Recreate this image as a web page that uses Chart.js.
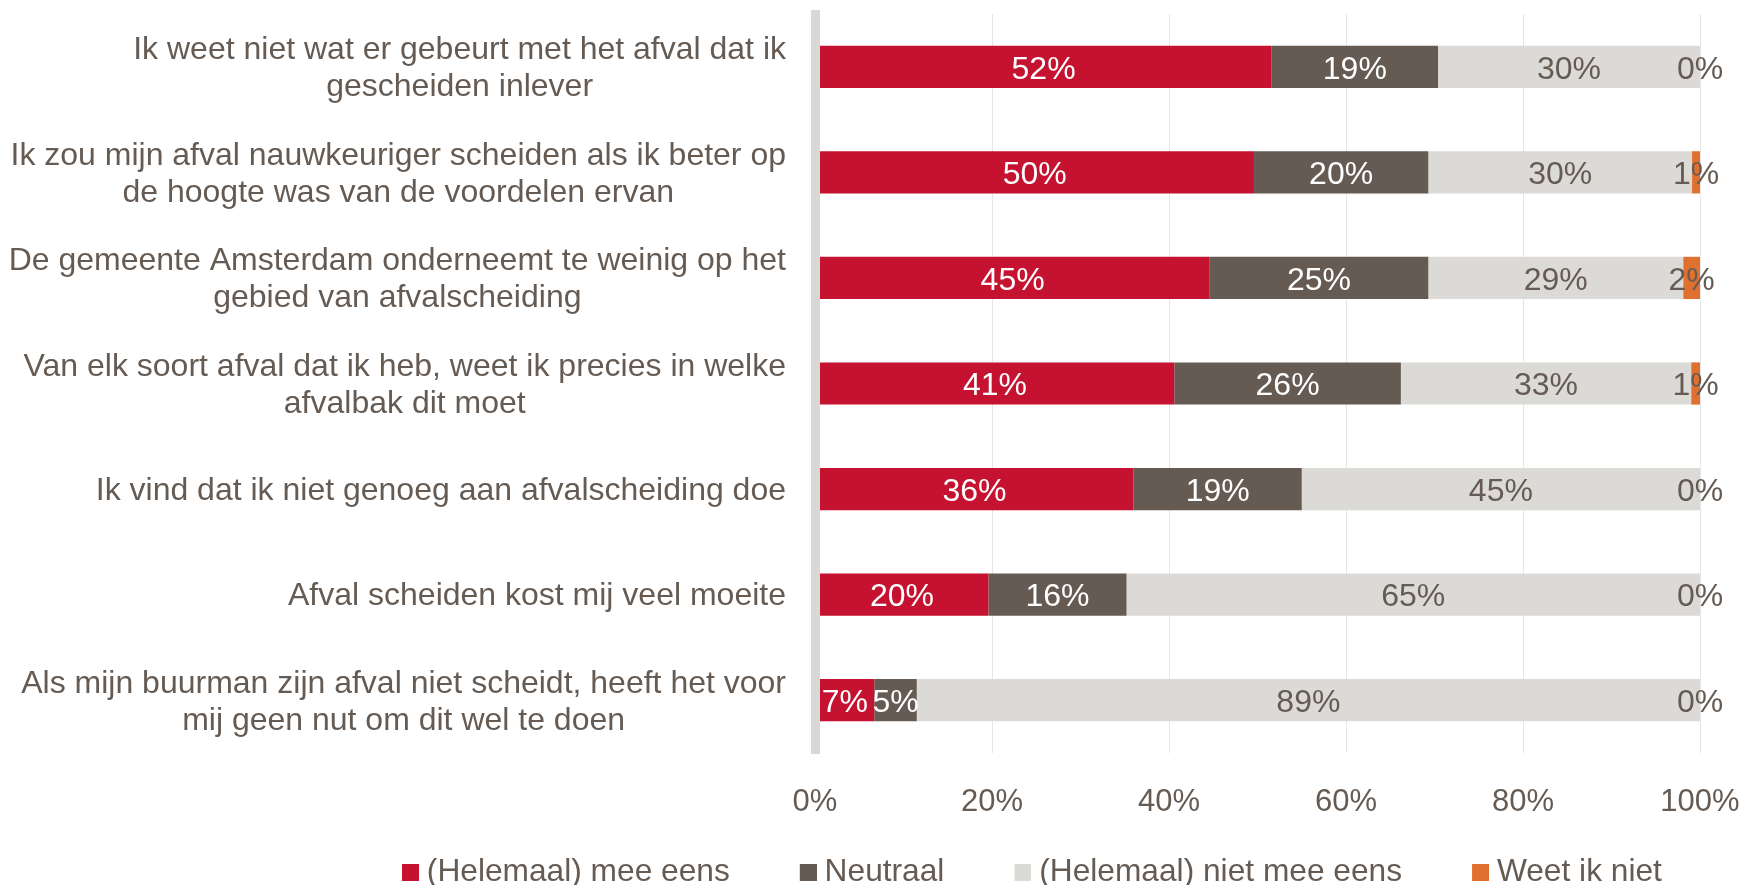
<!DOCTYPE html>
<html><head><meta charset="utf-8">
<script src="https://cdn.jsdelivr.net/npm/chart.js@4.4.1/dist/chart.umd.min.js"></script>
<style>html,body{margin:0;padding:0;background:#fff;overflow:hidden}</style>
</head><body>
<canvas id="c" width="1744" height="885"></canvas>
<script>
const categories = [
  ["Ik weet niet wat er gebeurt met het afval dat ik", "gescheiden inlever"],
  ["Ik zou mijn afval nauwkeuriger scheiden als ik beter op", "de hoogte was van de voordelen ervan"],
  ["De gemeente Amsterdam onderneemt te weinig op het", "gebied van afvalscheiding"],
  ["Van elk soort afval dat ik heb, weet ik precies in welke", "afvalbak dit moet"],
  ["Ik vind dat ik niet genoeg aan afvalscheiding doe"],
  ["Afval scheiden kost mij veel moeite"],
  ["Als mijn buurman zijn afval niet scheidt, heeft het voor", "mij geen nut om dit wel te doen"]
];
const seriesNames = ["(Helemaal) mee eens", "Neutraal", "(Helemaal) niet mee eens", "Weet ik niet"];
const agree    = [51.6, 49.6, 44.6, 40.6, 36.0, 19.6, 6.7];
const neutral  = [18.8, 19.7, 24.7, 25.6, 19.0, 15.6, 4.8];
const disagree = [29.6, 29.8, 28.8, 32.8, 45.0, 64.8, 88.5];
const dontKnow = [0, 0.9, 1.9, 1.0, 0, 0, 0];
const xTicks = [0, 20, 40, 60, 80, 100];

const TEXT = '#655B53';
const FONT = '"Liberation Sans", Arial, sans-serif';
const colors = ['#C41230', '#655B53', '#DBDAD6', '#E07030'];
const labelColors = ['#FFFFFF', '#FFFFFF', TEXT, TEXT];

const PLOT_LEFT = 815, PLOT_TOP = 14, PLOT_BOTTOM = 753, PLOT_RIGHT = 1700;
const LEG_PAD = 70, LEG_FONT = 31.7, LEG_BOX = 17, LEG_BW = 9;
const LEG_ITEM_H = Math.max(LEG_FONT, LEG_BOX);
const LEG_H = LEG_ITEM_H + LEG_PAD + 10;
const X_H = 72;
const LEFT_PAD = 402 - LEG_PAD;
const BOTTOM_PAD = 885 - (PLOT_BOTTOM + X_H + LEG_H);
const LEGEND_TEXT_Y = 872;

Chart.defaults.font.family = FONT;
Chart.defaults.color = TEXT;

function legendSwatch(color) {
  // square swatch placed at the right end of an image centred on the (narrow) legend box
  const W = 2 * (LEG_BOX - LEG_BW / 2);
  const c = document.createElement('canvas');
  c.width = W; c.height = LEG_BOX;
  const g = c.getContext('2d');
  g.fillStyle = color;
  g.fillRect(W - LEG_BOX, 0, LEG_BOX, LEG_BOX);
  return c;
}

const yLabelPlugin = {
  id: 'yLabels',
  afterDraw(chart) {
    const ctx = chart.ctx, ys = chart.scales.y;
    ctx.save();
    ctx.font = '32px ' + FONT;
    ctx.fillStyle = TEXT;
    ctx.textAlign = 'center';
    ctx.textBaseline = 'middle';
    const right = 786, lh = 37;
    categories.forEach((lines, i) => {
      const w = Math.max(...lines.map(l => ctx.measureText(l).width));
      const cx = right - w / 2;
      const cy = ys.getPixelForValue(i) + 2;
      lines.forEach((l, j) => ctx.fillText(l, cx, cy + (j - (lines.length - 1) / 2) * lh));
    });
    ctx.restore();
  }
};

const dataLabelPlugin = {
  id: 'dataLabels',
  afterDatasetsDraw(chart) {
    const ctx = chart.ctx;
    ctx.save();
    ctx.font = '32px ' + FONT;
    ctx.textAlign = 'center';
    ctx.textBaseline = 'middle';
    chart.data.datasets.forEach((ds, di) => {
      const meta = chart.getDatasetMeta(di);
      meta.data.forEach((el, i) => {
        const v = ds.data[i];
        ctx.fillStyle = labelColors[di];
        ctx.fillText(Math.round(v) + '%', (el.x + el.base) / 2, el.y + 3);
      });
    });
    ctx.restore();
  }
};

const legendShift = {
  id: 'legendShift',
  afterLayout(chart) {
    const lg = chart.legend;
    if (!lg) return;
    const top = LEGEND_TEXT_Y - LEG_PAD - LEG_ITEM_H / 2;
    lg.bottom = top + lg.height;
    lg.top = top;
  }
};

const seriesData = [agree, neutral, disagree, dontKnow];
const swatches = colors.map(legendSwatch);

new Chart(document.getElementById('c'), {
  type: 'bar',
  data: {
    labels: categories,
    datasets: seriesNames.map((n, i) => ({
      label: n,
      data: seriesData[i],
      backgroundColor: colors[i],
      borderWidth: 0,
      barPercentage: 0.4,
      categoryPercentage: 1.0
    }))
  },
  options: {
    indexAxis: 'y',
    responsive: false,
    animation: false,
    events: [],
    layout: { padding: { top: PLOT_TOP, left: LEFT_PAD, right: 0, bottom: BOTTOM_PAD } },
    scales: {
      x: {
        stacked: true, min: 0, max: 100,
        afterBuildTicks(s) { s.ticks = xTicks.map(v => ({ value: v })); },
        grid: { color: '#E6E6E6', lineWidth: 1, drawTicks: false },
        border: { display: false },
        ticks: { padding: 31, color: TEXT, font: { size: 31 }, callback: v => v + '%' },
        afterFit(s) { s.height = X_H; s.paddingRight = 1744 - PLOT_RIGHT; s.paddingLeft = 0; }
      },
      y: {
        stacked: true,
        grid: { display: false, drawTicks: false },
        border: { display: true, color: '#D9D8D4', width: 9, z: 1 },
        ticks: { display: false },
        afterFit(s) { s.width = PLOT_LEFT - LEFT_PAD; }
      }
    },
    plugins: {
      legend: {
        position: 'bottom',
        align: 'start',
        labels: {
          usePointStyle: true,
          pointStyleWidth: LEG_BW,
          boxHeight: LEG_BOX,
          padding: LEG_PAD,
          color: TEXT,
          font: { size: LEG_FONT },
          generateLabels(chart) {
            const items = Chart.defaults.plugins.legend.labels.generateLabels(chart);
            items.forEach((it, i) => { it.pointStyle = swatches[it.datasetIndex ?? i]; });
            return items;
          }
        }
      },
      tooltip: { enabled: false }
    }
  },
  plugins: [yLabelPlugin, dataLabelPlugin, legendShift]
});
</script>
</body></html>
